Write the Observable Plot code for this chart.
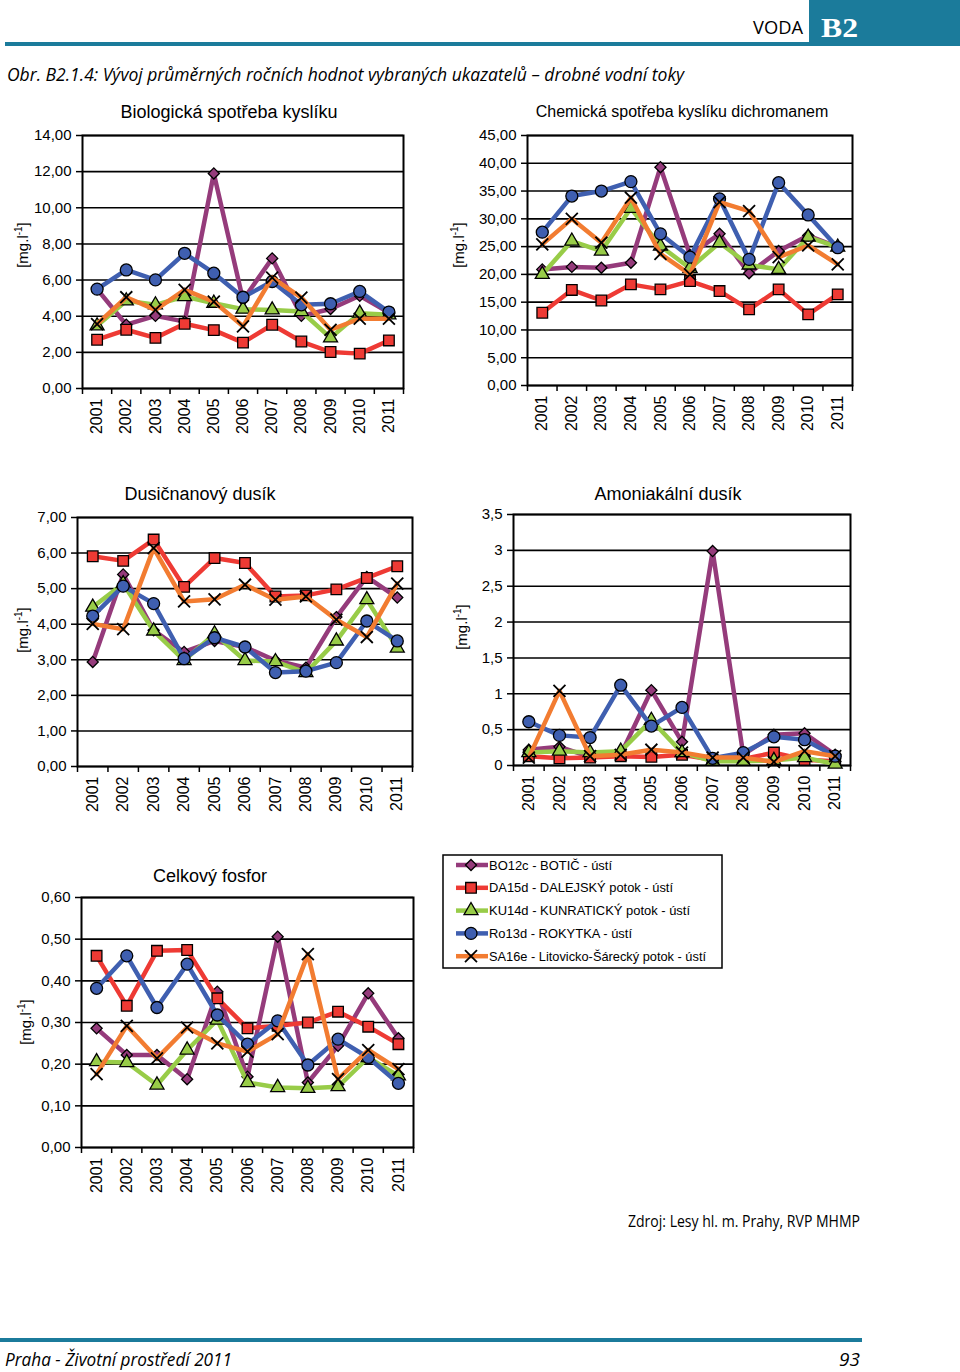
<!DOCTYPE html>
<html><head><meta charset="utf-8">
<script src="https://cdn.jsdelivr.net/npm/d3@7"></script>
<script src="https://cdn.jsdelivr.net/npm/@observablehq/plot@0.6"></script>
<style>
body{margin:0;background:#fff;}
#page{position:relative;width:960px;height:1372px;overflow:hidden;font-family:"Liberation Sans",Arial,sans-serif;color:#000;}
.pan{position:absolute;}
.ttl{position:absolute;font-size:18px;white-space:nowrap;transform:translate(-50%,-50%);}
.ylab{position:absolute;font-size:15px;white-space:nowrap;transform:translate(-50%,-50%) rotate(-90deg);}
.ylab sup{font-size:10px;}
#overlay{position:absolute;left:0;top:0;pointer-events:none;}
</style></head>
<body><div id="page"></div>
<script>
// ---------------- data ----------------
const years = [2001,2002,2003,2004,2005,2006,2007,2008,2009,2010,2011];
const stations = ["BO12c - BOTIČ  - ústí","DA15d - DALEJSKÝ potok - ústí","KU14d - KUNRATICKÝ  potok - ústí","Ro13d - ROKYTKA  - ústí","SA16e - Litovicko-Šárecký potok - ústí"];
const colors = ["#953b7b","#ee3a34","#98cc48","#3f5fb0","#f27c31"];
const symbols = ["diamond2","square","triangle","circle","times"];

// Biologická spotřeba kyslíku (order = stations)
const bsk = [
  [5.5, 3.53, 4.02, 3.7, 11.9, 4.9, 7.2, 4.02, 4.4, 5.13, 4.2],
  [2.7, 3.25, 2.8, 3.58, 3.23, 2.54, 3.53, 2.6, 2.02, 1.93, 2.66],
  [3.47, 4.85, 4.63, 5.09, 4.72, 4.39, 4.35, 4.26, 2.8, 4.17, 4.08],
  [5.5, 6.56, 6.01, 7.48, 6.38, 5.05, 5.92, 4.63, 4.69, 5.37, 4.23],
  [3.56, 5.05, 4.35, 5.46, 4.81, 3.44, 6.14, 5.03, 3.25, 3.86, 3.86]
];
// Chemická spotřeba kyslíku dichromanem
const chsk = [
  [20.9, 21.35, 21.2, 22.1, 39.3, 23.5, 27.3, 20.2, 24.2, 27.0, 24.9],
  [13.1, 17.2, 15.3, 18.2, 17.3, 18.8, 17.0, 13.7, 17.3, 12.8, 16.4],
  [20.0, 26.0, 24.2, 31.9, 25.1, 21.1, 25.7, 21.7, 20.9, 26.7, 24.9],
  [27.6, 34.1, 35.0, 36.7, 27.3, 23.1, 33.6, 22.7, 36.5, 30.7, 24.8],
  [25.4, 30.0, 25.7, 33.8, 23.7, 20.0, 33.0, 31.4, 23.1, 25.2, 21.8]
];
// Dusičnanový dusík
const nitrate = [
  [2.94, 5.4, 3.83, 3.22, 3.53, 3.36, 2.98, 2.78, 4.2, 5.33, 4.75],
  [5.91, 5.78, 6.38, 5.05, 5.86, 5.72, 4.78, 4.81, 4.98, 5.3, 5.63],
  [4.48, 5.14, 3.81, 2.98, 3.73, 2.98, 2.95, 2.64, 3.53, 4.69, 3.33],
  [4.23, 5.07, 4.58, 3.03, 3.62, 3.36, 2.64, 2.68, 2.92, 4.09, 3.53],
  [4.01, 3.86, 6.14, 4.64, 4.7, 5.11, 4.69, 4.78, 4.13, 3.64, 5.14]
];
// Amoniakální dusík
const ammonia = [
  [0.22, 0.26, 0.12, 0.15, 1.05, 0.33, 2.99, 0.15, 0.43, 0.45, 0.15],
  [0.13, 0.10, 0.11, 0.13, 0.12, 0.15, 0.08, 0.09, 0.18, 0.08, 0.06],
  [0.18, 0.20, 0.18, 0.20, 0.63, 0.18, 0.06, 0.06, 0.07, 0.11, 0.02],
  [0.61, 0.42, 0.39, 1.12, 0.55, 0.81, 0.10, 0.18, 0.40, 0.36, 0.13],
  [0.11, 1.04, 0.13, 0.15, 0.22, 0.18, 0.11, 0.11, 0.05, 0.20, 0.13]
];
// Celkový fosfor
const phosphorus = [
  [0.286, 0.222, 0.222, 0.164, 0.374, 0.17, 0.506, 0.156, 0.244, 0.37, 0.262],
  [0.46, 0.34, 0.472, 0.474, 0.358, 0.286, 0.292, 0.30, 0.326, 0.29, 0.248],
  [0.206, 0.204, 0.15, 0.234, 0.306, 0.156, 0.144, 0.142, 0.146, 0.216, 0.172],
  [0.382, 0.46, 0.336, 0.44, 0.318, 0.248, 0.304, 0.198, 0.26, 0.216, 0.154],
  [0.176, 0.292, 0.214, 0.288, 0.25, 0.23, 0.272, 0.464, 0.164, 0.234, 0.188]
];
const ticksBsk = [0,2,4,6,8,10,12,14];
const ticksChsk = [0,5,10,15,20,25,30,35,40,45];
const ticksNitrate = [0,1,2,3,4,5,6,7];
const ticksAmmonia = [0,0.5,1,1.5,2,2.5,3,3.5];
const ticksPhos = [0,0.1,0.2,0.3,0.4,0.5,0.6];

// ---------------- helpers ----------------
const page = document.getElementById("page");
const halfYears = years.map(y => y - 0.5).concat([years[years.length-1] + 0.5]);
const comma = f => d => f(d).replace(".", ",");
const fmt2 = comma(d3.format(".2f"));
const fmtG = d => String(d).replace(".", ",");
const radii = [5, 6, 5.2, 6, 5.5];

function panel(cfg){
  const {x0,x1,y0,y1} = cfg.frame;
  const data = [];
  stations.forEach((s,i)=> cfg.values[i].forEach((v,j)=> data.push({idx:i, year:years[j], value:v})));
  const marks = [
    Plot.gridY(cfg.ticks, {stroke:"black", strokeOpacity:1, strokeWidth:1.6}),
    Plot.frame({stroke:"black", strokeWidth:2}),
    Plot.axisY(cfg.ticks, {tickSize:6, tickPadding:5, tickFormat: cfg.fmt, fontSize:15, label:null, strokeWidth:1.5}),
    Plot.axisX(halfYears, {tickSize:6, tickFormat: () => "", label:null, strokeWidth:1.5}),
    Plot.axisX(years, {tickSize:0, tickPadding:10, tickRotate:-90, tickFormat: d => String(d), fontSize:16, label:null})
  ];
  stations.forEach((s,i)=>{
    const d = data.filter(r => r.idx === i);
    marks.push(Plot.line(d, {x:"year", y:"value", stroke:colors[i], strokeWidth:4.5}));
    marks.push(Plot.dot(d, {x:"year", y:"value", symbol:symbols[i], r:radii[i],
      fill: symbols[i] === "times" ? "none" : colors[i], stroke:"black", strokeWidth: symbols[i] === "times" ? 1.8 : 1.3}));
  });
  const chart = Plot.plot({
    width: cfg.width, height: cfg.height,
    marginLeft: x0 - cfg.left, marginRight: cfg.left + cfg.width - x1,
    marginTop: y0 - cfg.top, marginBottom: cfg.top + cfg.height - y1,
    x: {domain:[years[0]-0.5, years[years.length-1]+0.5]},
    y: {domain:[cfg.ticks[0], cfg.ticks[cfg.ticks.length-1]]},
    style: {fontFamily:"'Liberation Sans', Arial, sans-serif", fontSize:"15px", color:"black", background:"transparent", overflow:"visible"},
    marks
  });
  const wrap = document.createElement("div");
  wrap.className = "pan";
  wrap.style.left = cfg.left + "px"; wrap.style.top = cfg.top + "px";
  wrap.appendChild(chart);
  page.appendChild(wrap);
  const t = document.createElement("div");
  t.className = "ttl"; t.textContent = cfg.title;
  t.style.left = cfg.titlePos[0] + "px"; t.style.top = cfg.titlePos[1] + "px";
  if (cfg.titleSize) t.style.fontSize = cfg.titleSize + "px";
  page.appendChild(t);
  const yl = document.createElement("div");
  yl.className = "ylab"; yl.innerHTML = "[mg.l<sup>-1</sup>]";
  yl.style.left = cfg.ylabPos[0] + "px"; yl.style.top = cfg.ylabPos[1] + "px";
  page.appendChild(yl);
}

panel({values:bsk, ticks:ticksBsk, fmt:fmt2, title:"Biologická  spotřeba kyslíku",
  left:0, top:125, width:440, height:320, frame:{x0:82,x1:403,y0:135,y1:388},
  titlePos:[229,112], ylabPos:[22,245]});
panel({values:chsk, ticks:ticksChsk, fmt:fmt2, title:"Chemická spotřeba kyslíku dichromanem", titleSize:16,
  left:445, top:125, width:440, height:320, frame:{x0:527,x1:852,y0:135,y1:385},
  titlePos:[682,112], ylabPos:[458,245]});
panel({values:nitrate, ticks:ticksNitrate, fmt:fmt2, title:"Dusičnanový  dusík",
  left:0, top:505, width:440, height:320, frame:{x0:77,x1:412,y0:517,y1:766},
  titlePos:[200,494], ylabPos:[22,630]});
panel({values:ammonia, ticks:ticksAmmonia, fmt:fmtG, title:"Amoniakální  dusík",
  left:445, top:505, width:440, height:320, frame:{x0:513,x1:850,y0:514,y1:765},
  titlePos:[668,494], ylabPos:[461,627]});
panel({values:phosphorus, ticks:ticksPhos, fmt:fmt2, title:"Celkový fosfor",
  left:0, top:885, width:440, height:320, frame:{x0:81,x1:413,y0:897,y1:1147},
  titlePos:[210,876], ylabPos:[25,1022]});

// ---------------- overlay: header, legend, footer ----------------
const teal = "#1b7b9b";
const svg = d3.select(page).append("svg").attr("id","overlay").attr("width",960).attr("height",1372);
svg.append("rect").attr("x",5).attr("y",42).attr("width",955).attr("height",4).attr("fill",teal);
svg.append("rect").attr("x",809).attr("y",0).attr("width",151).attr("height",45).attr("fill",teal);
svg.append("text").attr("x",753).attr("y",34).attr("font-family","'Open Sans', sans-serif").attr("font-size",18)
  .attr("textLength",50).attr("lengthAdjust","spacingAndGlyphs").text("VODA");
svg.append("text").attr("x",821).attr("y",37).attr("font-family","'Liberation Serif', serif").attr("font-weight","bold")
  .attr("font-size",27).attr("fill","white").attr("textLength",37).attr("lengthAdjust","spacingAndGlyphs").text("B2");
svg.append("text").attr("x",7).attr("y",81).attr("font-family","'Liberation Sans Narrow','Open Sans',sans-serif").attr("font-style","italic")
  .attr("font-size",18).attr("textLength",677).attr("lengthAdjust","spacingAndGlyphs")
  .text("Obr. B2.1.4: Vývoj průměrných ročních hodnot vybraných ukazatelů – drobné vodní toky");

// legend
const lg = svg.append("g");
lg.append("rect").attr("x",443).attr("y",855).attr("width",279).attr("height",113).attr("fill","white").attr("stroke","black").attr("stroke-width",1.5);
stations.forEach((s,i)=>{
  const y = 865 + i*22.8;
  lg.append("line").attr("x1",456).attr("x2",488).attr("y1",y).attr("y2",y).attr("stroke",colors[i]).attr("stroke-width",4.5);
  const typ = {diamond2:d3.symbolDiamond2, square:d3.symbolSquare, triangle:d3.symbolTriangle, circle:d3.symbolCircle, times:d3.symbolTimes}[symbols[i]];
  lg.append("path").attr("transform",`translate(471,${y})`).attr("d", d3.symbol(typ, Math.PI*radii[i]*radii[i])())
    .attr("fill", symbols[i]==="times" ? "none" : colors[i]).attr("stroke","black").attr("stroke-width", symbols[i]==="times"?1.8:1.3);
  lg.append("text").attr("x",489).attr("y",y+4.5).attr("font-family","'Liberation Sans',Arial,sans-serif").attr("font-size",13)
    .attr("textLength", [123,184,201,143,217][i]).attr("lengthAdjust","spacingAndGlyphs").text(s);
});

// source + footer
svg.append("text").attr("x",628).attr("y",1227).attr("font-family","'Liberation Sans Narrow','Open Sans',sans-serif")
  .attr("font-size",16).attr("textLength",232).attr("lengthAdjust","spacingAndGlyphs").text("Zdroj: Lesy hl. m. Prahy, RVP MHMP");
svg.append("rect").attr("x",0).attr("y",1338).attr("width",862).attr("height",4).attr("fill",teal);
svg.append("text").attr("x",5).attr("y",1366).attr("font-family","'Liberation Sans Narrow','Open Sans',sans-serif").attr("font-style","italic")
  .attr("font-size",19).attr("textLength",227).attr("lengthAdjust","spacingAndGlyphs").text("Praha - Životní prostředí 2011");
svg.append("text").attr("x",860).attr("y",1366).attr("text-anchor","end").attr("font-family","'Liberation Sans Narrow','Open Sans',sans-serif").attr("font-style","italic")
  .attr("font-size",19).text("93");
</script>
</body></html>
